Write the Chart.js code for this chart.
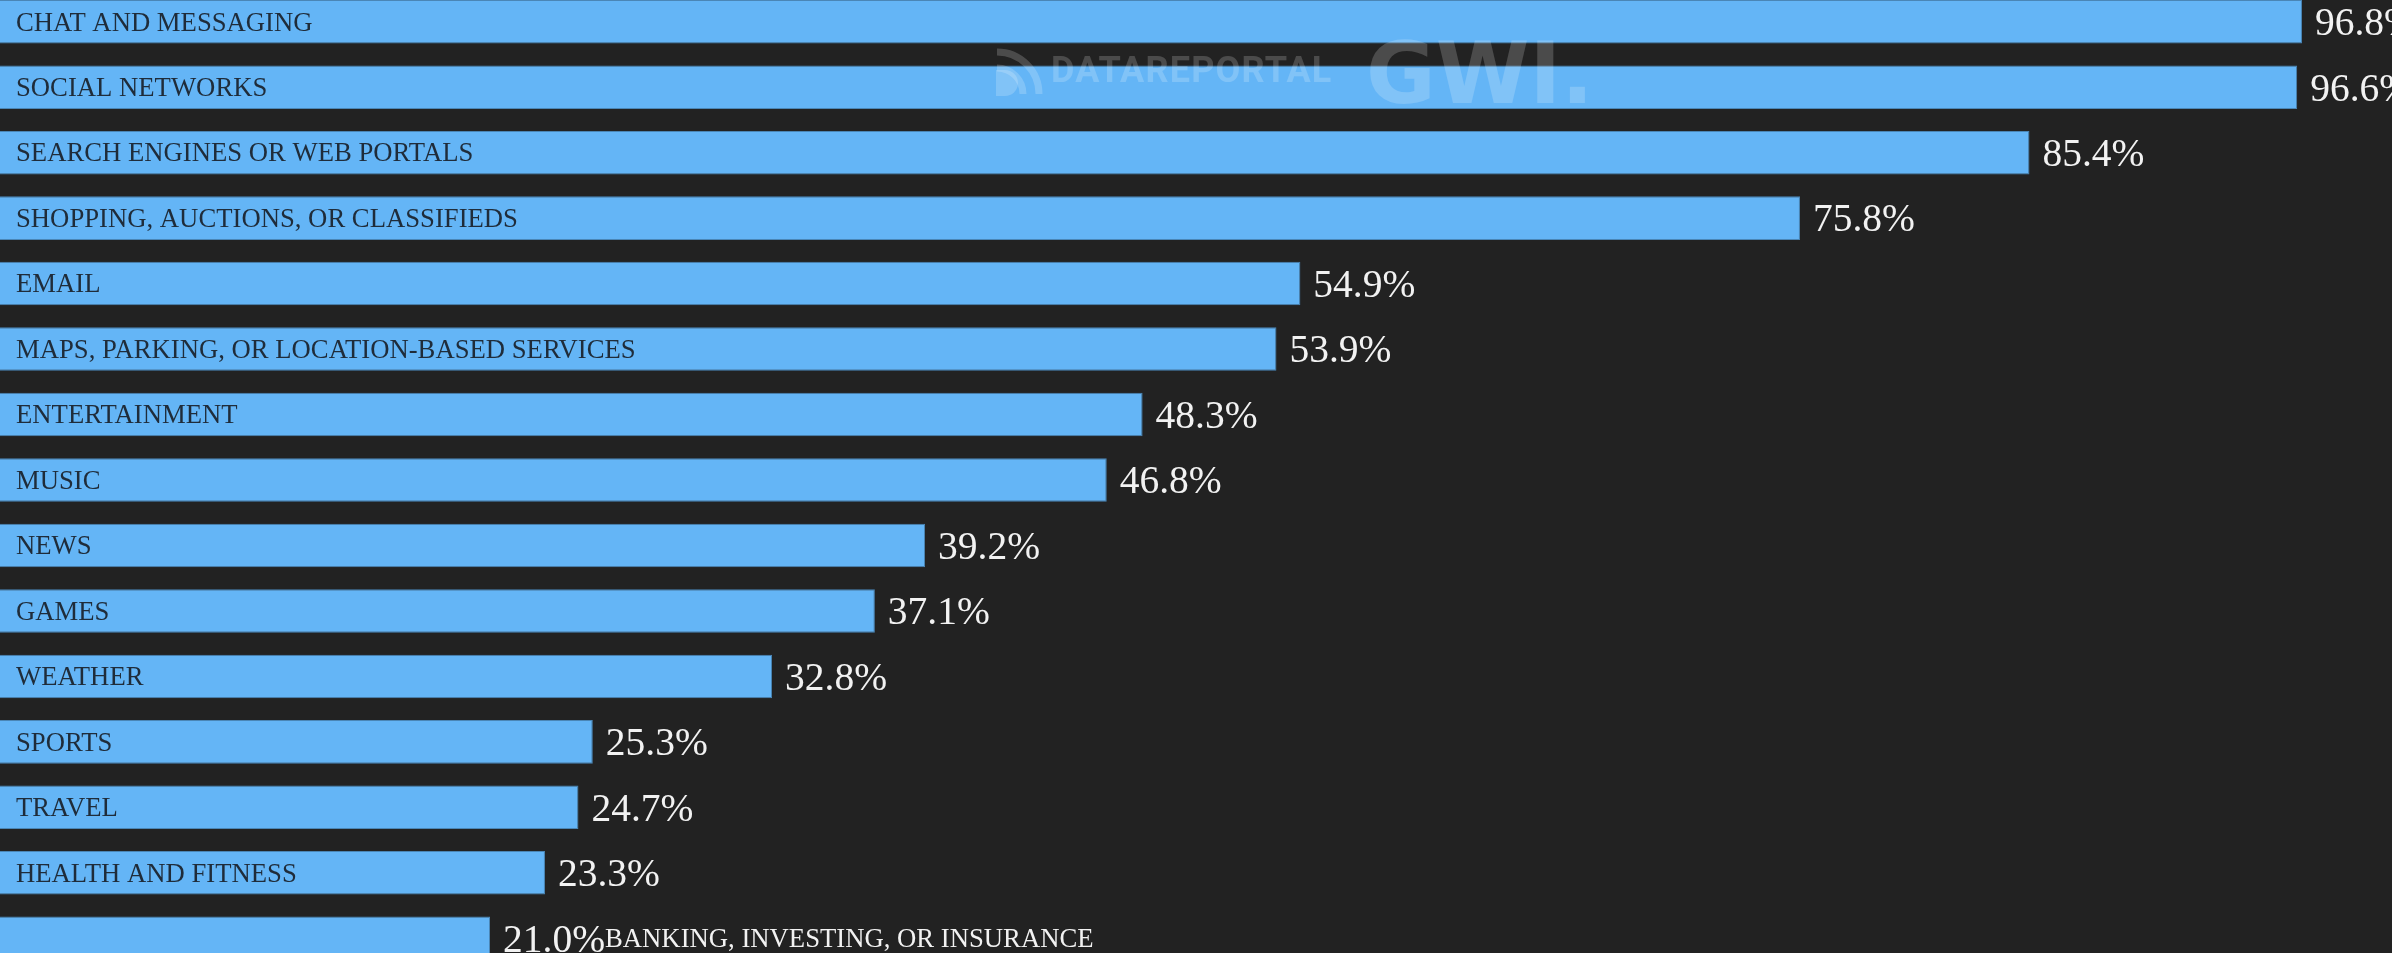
<!DOCTYPE html>
<html>
<head>
<meta charset="utf-8">
<script src="https://cdn.jsdelivr.net/npm/chart.js@4"></script>
<style>
  html, body { margin: 0; padding: 0; background: #222222; overflow: hidden; }
  body { width: 2392px; height: 953px; position: relative; }
  #wrap { position: absolute; left: -12px; top: -11px; }
</style>
</head>
<body>
<div id="wrap"><canvas id="usage" width="2510" height="982"></canvas></div>
<script>
const categories = [
  "CHAT AND MESSAGING",
  "SOCIAL NETWORKS",
  "SEARCH ENGINES OR WEB PORTALS",
  "SHOPPING, AUCTIONS, OR CLASSIFIEDS",
  "EMAIL",
  "MAPS, PARKING, OR LOCATION-BASED SERVICES",
  "ENTERTAINMENT",
  "MUSIC",
  "NEWS",
  "GAMES",
  "WEATHER",
  "SPORTS",
  "TRAVEL",
  "HEALTH AND FITNESS",
  "BANKING, INVESTING, OR INSURANCE"
];
const shares = [96.8, 96.6, 85.4, 75.8, 54.9, 53.9, 48.3, 46.8, 39.2, 37.1, 32.8, 25.3, 24.7, 23.3, 21.0];

const SERIF = "'Liberation Serif', 'Times New Roman', serif";

// labels inside / next to the bars
const barLabels = {
  id: 'barLabels',
  afterDatasetsDraw(chart) {
    const ctx = chart.ctx;
    const meta = chart.getDatasetMeta(0);
    ctx.save();
    meta.data.forEach((bar, i) => {
      const valText = shares[i].toFixed(1) + '%';
      ctx.font = '39.5px ' + SERIF;
      ctx.fillStyle = '#f2f2f2';
      ctx.textBaseline = 'alphabetic';
      ctx.textAlign = 'left';
      const vx = bar.x + 13;
      ctx.fillText(valText, vx, bar.y + 13.3);
      const vw = ctx.measureText(valText).width;

      ctx.font = '26.7px ' + SERIF;
      const cw = ctx.measureText(categories[i]).width;
      let cx = bar.base + 28;
      if (cx + cw + 8 > bar.x) {
        // does not fit in the bar: put it after the value
        cx = vx + vw;
        ctx.fillStyle = '#f2f2f2';
      } else {
        ctx.fillStyle = '#1f2c3a';
      }
      ctx.fillText(categories[i], cx, bar.y + 8.8);
    });
    ctx.restore();
  }
};

// faint brand marks over the chart
const watermark = {
  id: 'watermark',
  afterDraw(chart) {
    const ctx = chart.ctx;
    ctx.save();
    ctx.translate(12, 11);
    ctx.fillStyle = 'rgba(255,255,255,0.19)';
    ctx.strokeStyle = 'rgba(255,255,255,0.19)';

    // icon
    ctx.lineWidth = 7;
    ctx.beginPath();
    ctx.arc(997, 94, 42, -Math.PI / 2, 0);
    ctx.stroke();
    ctx.beginPath();
    ctx.arc(997, 94, 26, -Math.PI / 2, 0);
    ctx.stroke();
    ctx.beginPath();
    ctx.moveTo(996, 70);
    ctx.lineTo(996, 96);
    ctx.lineTo(1005, 96);
    ctx.arc(1005, 83, 13, Math.PI / 2, -Math.PI / 2, true);
    ctx.closePath();
    ctx.fill();

    ctx.textBaseline = 'alphabetic';
    ctx.font = 'bold 36px Roboto, sans-serif';
    ctx.letterSpacing = '1.2px';
    ctx.fillText('DATAREPORTAL', 1051, 82);
    ctx.letterSpacing = '0px';
    ctx.font = 'bold 85px "DejaVu Sans", sans-serif';
    ctx.fillText('GWI.', 1366, 103);
    ctx.restore();
  }
};

new Chart(document.getElementById('usage'), {
  type: 'bar',
  data: {
    labels: categories,
    datasets: [{
      data: shares,
      backgroundColor: '#64b5f6',
      borderColor: '#4a86b6',
      borderWidth: 1,
      categoryPercentage: 1,
      barPercentage: 0.665
    }]
  },
  options: {
    indexAxis: 'y',
    responsive: false,
    animation: false,
    layout: { padding: 0 },
    plugins: {
      legend: { display: false },
      tooltip: { enabled: false }
    },
    scales: {
      x: { display: false, min: 0, max: 105 },
      y: { display: false }
    }
  },
  plugins: [barLabels, watermark]
});
</script>
</body>
</html>
